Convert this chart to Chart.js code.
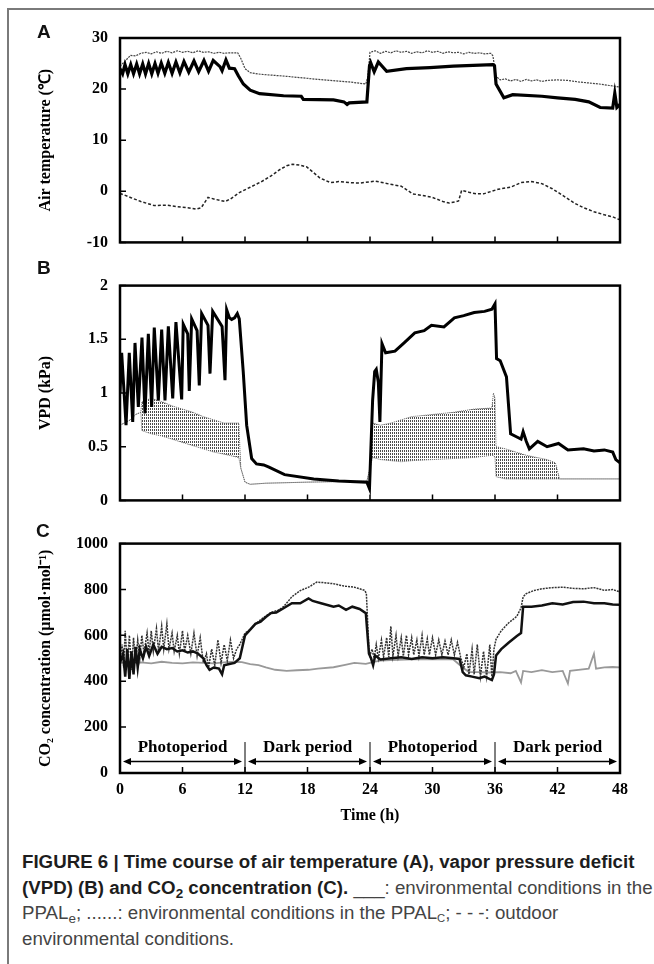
<!DOCTYPE html>
<html>
<head>
<meta charset="utf-8">
<script src="https://cdn.jsdelivr.net/npm/chart.js@4.4.1/dist/chart.umd.min.js"></script>
<style>
  html, body { margin: 0; padding: 0; background: #fff; }
  #page { position: relative; width: 654px; height: 964px; overflow: hidden; }
  #frame { position: absolute; left: 7px; top: 8px; width: 660px; height: 980px; border-top: 2px solid #7a7a7a; border-left: 2px solid #7a7a7a; }
  canvas { position: absolute; left: 0; }
  .tag { position: absolute; font: bold 19px/22px 'Liberation Sans', Arial, sans-serif; color: #111; }
  #caption { position: absolute; left: 22px; top: 849px; font: 18.7px/25.7px 'Liberation Sans', Arial, sans-serif; color: #444; white-space: nowrap; }
  #caption b { color: #1d1d1d; }
  #caption sub { font-size: 0.72em; line-height: 0; vertical-align: -0.3em; }
</style>
</head>
<body>
<div id="page">
  <div id="frame"></div>
  <canvas id="cA" width="654" height="264" style="top:0"></canvas>
  <canvas id="cB" width="654" height="258" style="top:264px"></canvas>
  <canvas id="cC" width="654" height="320" style="top:522px"></canvas>
  <div class="tag" style="left:37px;top:21px">A</div>
  <div class="tag" style="left:37px;top:257px">B</div>
  <div class="tag" style="left:36px;top:520px">C</div>
  <div id="caption">
    <b>FIGURE 6 | Time course of air temperature (A), vapor pressure deficit</b><br>
    <b>(VPD) (B) and CO<sub>2</sub> concentration (C).</b> ___: environmental conditions in the<br>
    PPAL<sub>e</sub>; ......: environmental conditions in the PPAL<sub style="font-size:0.6em">C</sub>; - - -: outdoor<br>
    environmental conditions.
  </div>
</div>
<script>
// ---- data (time in h) ----
const timeTicks = [0, 6, 12, 18, 24, 30, 36, 42, 48];
const tempTicks = [-10, 0, 10, 20, 30];
const vpdTicks = [0, 0.5, 1, 1.5, 2];
const co2Ticks = [0, 200, 400, 600, 800, 1000];

const periodBounds = [0, 12, 24, 36, 48];
const periodNames = ['Photoperiod', 'Dark period', 'Photoperiod', 'Dark period'];

// A: air temperature
const tA_e = [0,0.25,0.48,0.75,1.03,1.3,1.6,1.88,2.18,2.45,2.75,3.05,3.36,3.65,3.96,4.3,4.64,5.0,5.37,5.75,6.14,6.6,7.1,7.55,8.06,8.5,8.95,9.6,9.8,10.17,10.5,11.0,11.36,11.84,12.5,13.4,15.7,17.4,17.6,20.5,21.5,21.8,22.0,23.7,23.95,24.06,24.4,24.8,25.6,27.5,29.75,32,35.8,35.95,36.1,36.85,37.7,40.5,42.0,43.7,45,46.1,47.3,47.5,47.7,48];
const tempE = [24.0,23.0,24.8,23.0,24.8,23.0,24.9,23.0,24.9,23.0,25.0,23.0,25.0,23.1,25.1,23.1,25.2,23.1,25.3,23.2,25.4,23.3,25.5,23.4,25.6,23.5,25.6,24.4,23.6,25.7,24.1,24.0,22.6,21.0,19.8,19.1,18.7,18.6,18.0,17.9,17.5,17.0,17.3,17.5,24.5,25.2,23.4,25.3,23.5,24.0,24.2,24.5,24.8,24.6,21.0,18.3,18.9,18.6,18.3,18.0,17.5,16.4,16.3,19.2,16.4,17.0];

const tA_c = [0,0.5,1.0,1.5,2.0,2.5,3,3.5,4,4.5,5,5.5,6,6.5,7,7.5,8,8.5,9,9.5,10,10.5,11.3,11.6,12.0,12.5,13.5,16,19,22,23.6,23.8,24.0,24.5,25,25.5,26,26.5,27,27.5,28,28.5,29,29.5,30,30.5,31,31.5,32,32.5,33,33.5,34,34.5,35,35.6,35.8,36.1,36.5,37,37.5,38,38.5,39,39.5,40,40.5,41,42,43,44,45,46,47,48];
const tempC = [24.5,25.5,26.6,26.5,27.0,27.2,26.9,27.3,27.0,27.4,27.1,27.5,27.2,27.4,27.1,27.5,27.2,27.3,27.0,27.2,27.0,27.1,27.1,26.0,24.0,23.2,22.9,22.5,21.9,21.4,21.0,22.5,27.2,27.5,27.0,27.4,27.1,27.5,27.2,27.4,27.0,27.3,27.1,27.5,27.2,27.4,27.0,27.3,27.1,27.2,26.9,27.2,27.0,27.1,26.9,27.0,26.5,22.5,21.8,22.0,21.6,21.9,21.5,21.9,21.6,21.8,21.5,21.7,21.8,21.7,21.4,21.2,21.0,20.7,20.4];

const tA_o = [0,1,2,3.3,4.5,5.5,6.5,7.3,7.8,8.45,9.2,10.1,10.6,11.5,12.5,13.5,14.5,15.3,16.0,16.6,17.3,17.9,18.5,19.2,20.2,21,22,23,24.5,25.9,27,28.1,29,30,31,31.6,32.15,32.5,32.8,33.5,34.2,34.9,36.3,37.5,38.5,39.5,40.5,41.5,42.5,43.7,44.5,45.5,46.5,47.3,48];
const tempO = [-0.4,-1.2,-2.0,-2.8,-2.7,-3.0,-3.2,-3.5,-3.2,-1.2,-1.6,-2.0,-1.5,-0.2,0.8,1.8,3.0,4.2,5.0,5.3,5.1,4.8,3.8,2.6,1.7,1.9,1.7,1.6,2.0,1.4,1.0,-0.5,-0.8,-1.2,-2.0,-2.3,-2.1,-1.9,0.2,-0.2,-0.5,-0.5,0.4,0.8,1.7,1.9,1.5,0.5,-0.8,-2.4,-3.2,-4.0,-4.6,-5.0,-5.6];

// B: VPD
const tB_e = [0,0.16,0.58,0.89,1.22,1.44,1.76,2.11,2.4,2.72,3.04,3.29,3.68,4.0,4.32,4.64,5.06,5.37,5.92,6.07,6.5,6.65,6.88,7.4,7.61,7.84,8.45,8.64,8.9,9.8,10.08,10.24,10.5,10.72,11.0,11.26,11.45,11.83,12.16,12.64,13.1,13.8,14.3,15.8,18.6,21,23.7,23.95,24.25,24.45,24.6,24.8,24.95,25.15,25.5,26.4,27.3,28.3,29.2,29.9,31.1,32.1,33,34.0,35,35.7,36.0,36.15,36.5,37.1,37.5,38.1,38.5,38.7,39.0,39.3,40.1,41,42.1,43,44.5,45.5,46.5,47.3,47.6,48];
const vpdE = [1.0,1.375,0.70,1.375,0.73,1.466,0.87,1.516,0.81,1.55,0.87,1.61,0.93,1.59,0.93,1.62,0.95,1.66,0.94,1.64,1.55,1.02,1.69,1.58,1.07,1.74,1.63,1.18,1.76,1.62,1.12,1.775,1.70,1.685,1.70,1.74,1.69,1.2,0.70,0.39,0.34,0.33,0.31,0.24,0.20,0.18,0.17,0.11,0.93,1.2,1.22,1.1,0.73,1.46,1.375,1.39,1.47,1.56,1.58,1.63,1.615,1.70,1.72,1.75,1.76,1.78,1.83,1.32,1.30,1.15,0.62,0.59,0.57,0.64,0.55,0.48,0.55,0.50,0.53,0.47,0.48,0.46,0.47,0.45,0.38,0.35];

// PPALc VPD swings fast: kept as its low/high envelope
const tB_c = [0,1,1.5,2.0,2.1,3,4,5,6,7,8,9,10,11.4,11.6,12.0,12.5,14,18,23.7,24.0,24.25,25,26,27,28,30,32,34,35.7,35.85,36.0,36.1,37,38,39,40,41,41.8,42.2,48];
const vpdCLow = [0.70,0.75,0.80,0.82,0.65,0.62,0.60,0.57,0.54,0.51,0.48,0.45,0.43,0.40,0.30,0.17,0.15,0.16,0.17,0.18,0.30,0.40,0.38,0.37,0.36,0.37,0.38,0.39,0.40,0.42,0.42,0.40,0.22,0.20,0.20,0.20,0.20,0.20,0.20,0.20,0.20];
const vpdCHigh = [0.70,0.75,0.80,0.82,0.92,0.95,0.92,0.88,0.85,0.82,0.78,0.75,0.72,0.72,0.30,0.17,0.15,0.16,0.17,0.18,0.30,0.72,0.70,0.72,0.75,0.78,0.80,0.82,0.85,0.86,1.00,0.95,0.50,0.48,0.45,0.42,0.40,0.38,0.35,0.20,0.20];

// C: CO2
const tC_e = [0,0.3,0.5,0.7,0.9,1.1,1.3,1.5,1.7,1.9,2.2,2.5,2.8,3.2,3.6,4.0,4.5,5.0,5.5,6.0,6.5,7.0,7.5,8.0,8.3,8.6,9.0,9.5,9.8,10.0,10.5,11.0,11.5,12.0,12.5,13.0,13.5,14.0,14.5,15.0,15.7,16.5,17.3,18.1,18.5,19.3,20.5,21.0,21.7,22.3,23.0,23.6,23.9,24.1,24.3,24.5,25,26,27,28,29,30,31,32,32.6,32.9,33.2,33.8,34.5,35.0,35.7,35.9,36.1,36.6,37.3,38.1,38.5,38.7,39.5,40.5,41.5,42.5,43.5,44.5,45.5,46.5,47.3,48];
const co2E = [480,520,420,540,410,530,430,550,460,540,500,550,510,560,520,550,540,545,530,535,525,530,520,500,470,450,460,455,430,470,475,480,500,600,625,650,660,680,697,700,718,740,740,761,750,740,725,730,711,725,715,697,520,500,470,512,495,500,505,497,505,500,505,500,497,440,426,420,413,420,405,430,512,540,568,597,610,725,725,730,740,735,745,747,740,740,735,733];

const tC_c = [0,0.2,0.35,0.5,0.7,0.9,1.1,1.3,1.5,1.7,1.9,2.1,2.3,2.6,2.8,3.0,3.2,3.5,3.7,4.0,4.2,4.5,4.7,5.0,5.2,5.5,5.7,6.0,6.2,6.5,6.8,7.1,7.4,7.7,8.0,8.3,8.5,8.8,9.1,9.4,9.7,10.0,10.3,10.6,10.9,11.2,11.5,12.0,12.5,13.0,13.7,14.5,15.2,15.7,16.5,17.3,18.1,18.9,19.5,20.5,21.5,22.5,23.5,23.65,23.9,24.0,24.2,24.4,24.6,24.8,25.1,25.3,25.6,25.8,26.0,26.2,26.5,26.7,27.0,27.2,27.5,27.7,28.0,28.2,28.5,28.7,29.0,29.2,29.5,29.7,30.0,30.3,30.6,30.9,31.2,31.5,31.8,32.1,32.4,32.7,33.0,33.3,33.5,33.8,34.0,34.3,34.6,34.9,35.2,35.5,35.7,35.9,36.1,36.6,37.3,38.1,38.5,38.7,39.0,39.7,40.5,41.5,42.5,43.5,44.5,45.5,46.5,47.3,48];
const co2C = [490,560,460,620,470,600,450,590,480,580,500,600,520,610,520,620,530,630,530,640,540,650,540,610,530,600,520,620,530,600,520,610,510,590,480,520,460,540,470,580,480,560,490,580,500,540,560,610,625,650,675,700,710,725,768,795,810,832,830,825,815,810,796,782,540,513,540,500,560,500,580,505,590,505,640,510,600,510,590,510,600,515,590,515,580,510,600,515,585,515,590,515,580,515,575,515,580,515,570,505,460,520,430,540,430,560,420,530,420,560,420,540,583,620,654,683,720,768,782,795,803,808,810,805,803,808,796,800,789];

const tC_o = [0,1,2,3,4,5,6,7,8,9,10,11,11.7,12.5,13.3,14,14.9,16,17,18.1,19,20.5,21.5,22.5,23.6,24.5,25,26,28,30,32,32.9,33.5,34.5,35.5,36.5,37.5,38,38.5,38.7,39.5,40.5,41.5,42.5,43,43.2,44,45,45.5,45.7,46.5,47.3,48];
const co2O = [480,478,482,478,485,480,478,482,480,478,482,485,483,475,470,460,450,445,448,450,455,461,470,480,476,485,490,492,495,495,495,460,440,440,438,440,435,445,395,445,440,448,440,445,390,445,450,455,520,455,460,462,460];

// ---- helpers ----
const serif = "'Liberation Serif', 'Times New Roman', serif";
const pts = (ts, vs) => ts.map((t, i) => ({ x: t, y: vs[i] }));

// box around the plot and inward tick marks
const boxPlugin = {
  id: 'box',
  afterDatasetsDraw(chart) {
    const { ctx, chartArea: a, scales: { x, y } } = chart;
    ctx.save();
    ctx.strokeStyle = '#000';
    ctx.lineWidth = 1.5;
    ctx.beginPath();
    x.ticks.forEach(t => {
      const px = x.getPixelForValue(t.value);
      ctx.moveTo(px, a.bottom); ctx.lineTo(px, a.bottom - 6);
    });
    y.ticks.forEach(t => {
      const py = y.getPixelForValue(t.value);
      ctx.moveTo(a.left, py); ctx.lineTo(a.left + 6, py);
    });
    ctx.stroke();
    ctx.lineWidth = 2.5;
    ctx.strokeRect(a.left, a.top, a.right - a.left, a.bottom - a.top);
    ctx.restore();
  }
};

function arrowhead(ctx, px, py, dir) {
  ctx.beginPath();
  ctx.moveTo(px, py);
  ctx.lineTo(px + dir * 8, py - 3.5);
  ctx.lineTo(px + dir * 8, py + 3.5);
  ctx.closePath();
  ctx.fill();
}

// photoperiod / dark period arrows in panel C
const periodPlugin = {
  id: 'periods',
  afterDatasetsDraw(chart, args, opts) {
    const { ctx, scales: { x, y } } = chart;
    ctx.save();
    ctx.strokeStyle = '#000';
    ctx.fillStyle = '#000';
    ctx.lineWidth = 1;
    periodBounds.slice(1, -1).forEach(t => {
      const px = x.getPixelForValue(t);
      ctx.beginPath();
      ctx.moveTo(px, y.getPixelForValue(0));
      ctx.lineTo(px, y.getPixelForValue(opts.dividerTop));
      ctx.stroke();
    });
    const ay = y.getPixelForValue(opts.arrowLevel);
    const ly = y.getPixelForValue(opts.labelLevel);
    ctx.font = `bold 17px ${serif}`;
    ctx.textAlign = 'center';
    ctx.textBaseline = 'middle';
    periodNames.forEach((name, i) => {
      const x0 = x.getPixelForValue(periodBounds[i]) + 3;
      const x1 = x.getPixelForValue(periodBounds[i + 1]) - 3;
      ctx.lineWidth = 1.5;
      ctx.beginPath(); ctx.moveTo(x0 + 5, ay); ctx.lineTo(x1 - 5, ay); ctx.stroke();
      arrowhead(ctx, x0, ay, 1);
      arrowhead(ctx, x1, ay, -1);
      ctx.fillText(name, (x0 + x1) / 2, ly);
    });
    ctx.restore();
  }
};

// dotted vertical hatch for the fast-swinging PPALc band
function stripes(canvas) {
  const c = document.createElement('canvas');
  c.width = 2; c.height = 3;
  const g = c.getContext('2d');
  g.fillStyle = 'rgba(55,55,55,0.9)';
  g.fillRect(0, 0, 1, 2);
  return canvas.getContext('2d').createPattern(c, 'repeat');
}

function panelOptions(p) {
  const tickFont = { family: serif, size: 16, weight: 'bold' };
  return {
    responsive: false,
    animation: false,
    devicePixelRatio: 1,
    layout: { padding: { left: 36, right: 34, top: p.top, bottom: p.bottom } },
    plugins: { legend: { display: false }, tooltip: { enabled: false }, periods: p.periods || false },
    elements: { point: { radius: 0 }, line: { tension: 0 } },
    scales: {
      x: {
        type: 'linear', min: 0, max: 48,
        afterBuildTicks: s => { s.ticks = timeTicks.map(v => ({ value: v })); },
        grid: { display: false, drawTicks: false },
        border: { display: false },
        ticks: { display: !!p.xTitle, padding: 7, color: '#000', font: tickFont },
        title: p.xTitle
          ? { display: true, text: p.xTitle, color: '#000', font: { family: serif, size: 16, weight: 'bold', lineHeight: 1.2 }, padding: 17 }
          : { display: false },
        afterFit: s => { s.height = p.xHeight; }
      },
      y: {
        min: p.ymin, max: p.ymax,
        afterBuildTicks: s => { s.ticks = p.yTicks.map(v => ({ value: v })); },
        grid: { display: false, drawTicks: false },
        border: { display: false },
        ticks: { padding: 12, color: '#000', font: tickFont, callback: v => String(v) },
        title: { display: true, text: p.yTitle, color: '#000', font: { family: serif, size: 16, weight: 'bold', lineHeight: 1.2 }, padding: 0 },
        afterFit: s => { s.width = 84; }
      }
    }
  };
}

// ---- panel A ----
new Chart(document.getElementById('cA'), {
  type: 'line',
  data: {
    datasets: [
      { data: pts(tA_e, tempE), borderColor: '#000', borderWidth: 3.2 },
      { data: pts(tA_c, tempC), borderColor: '#444', borderWidth: 1.2, borderDash: [2, 1] },
      { data: pts(tA_o, tempO), borderColor: '#222', borderWidth: 1.5, borderDash: [3, 2] }
    ]
  },
  options: panelOptions({ top: 38, bottom: 9, xHeight: 0, ymin: -10, ymax: 30, yTicks: tempTicks, yTitle: 'Air temperature (℃)' }),
  plugins: [boxPlugin]
});

// ---- panel B ----
const cB = document.getElementById('cB');
new Chart(cB, {
  type: 'line',
  data: {
    datasets: [
      { data: pts(tB_e, vpdE), borderColor: '#000', borderWidth: 3 },
      { data: pts(tB_c, vpdCLow), borderColor: '#666', borderWidth: 1, borderDash: [1, 1] },
      { data: pts(tB_c, vpdCHigh), borderColor: '#666', borderWidth: 1, borderDash: [1, 1], fill: '-1', backgroundColor: stripes(cB) }
    ]
  },
  options: panelOptions({ top: 12, bottom: 9, xHeight: 0, ymin: 0, ymax: 2, yTicks: vpdTicks, yTitle: 'VPD (kPa)' }),
  plugins: [boxPlugin]
});

// ---- panel C ----
new Chart(document.getElementById('cC'), {
  type: 'line',
  data: {
    datasets: [
      { data: pts(tC_e, co2E), borderColor: '#111', borderWidth: 2.5 },
      { data: pts(tC_c, co2C), borderColor: '#333', borderWidth: 1.5, borderDash: [2, 1] },
      { data: pts(tC_o, co2O), borderColor: '#999', borderWidth: 1.8 }
    ]
  },
  options: panelOptions({
    top: 17, bottom: 0, xHeight: 69, ymin: 0, ymax: 1000, yTicks: co2Ticks,
    yTitle: 'CO₂ concentration (μmol·mol⁻¹)', xTitle: 'Time (h)',
    periods: { dividerTop: 135, arrowLevel: 50, labelLevel: 112 }
  }),
  plugins: [boxPlugin, periodPlugin]
});
</script>
</body>
</html>
